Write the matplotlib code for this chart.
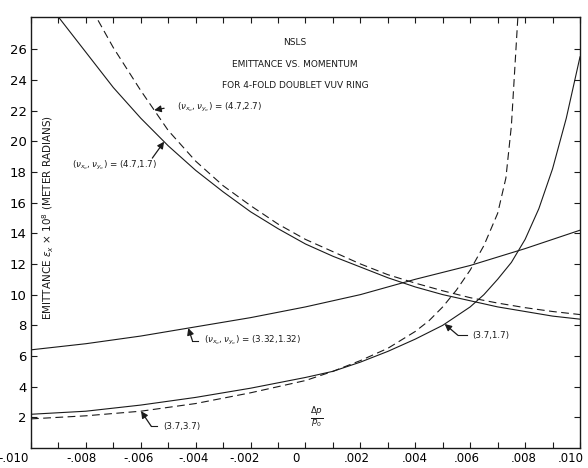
import matplotlib
matplotlib.use('Agg')
import matplotlib.pyplot as plt
import matplotlib.transforms as mtransforms
import numpy as np

# momentum deviation dp/p0 and emittance (x 1e-8 m rad)
x_a = [-0.0095, -0.009, -0.008, -0.007, -0.006, -0.005, -0.004, -0.003, -0.002, -0.001, 0.0,
       0.001, 0.002, 0.003, 0.004, 0.005, 0.006, 0.007, 0.008, 0.009, 0.010]
eps_a = [29.5, 28.1, 25.8, 23.5, 21.5, 19.7, 18.1, 16.7, 15.4, 14.3, 13.3,
         12.5, 11.8, 11.1, 10.5, 10.0, 9.6, 9.2, 8.9, 8.6, 8.4]          # (4.7,1.7) solid

x_b = [-0.008, -0.007, -0.006, -0.005, -0.004, -0.003, -0.002, -0.001, 0.0, 0.001,
       0.002, 0.003, 0.004, 0.005, 0.006, 0.007, 0.008, 0.009, 0.010]
eps_b = [29.3, 26.1, 23.3, 20.7, 18.7, 17.1, 15.8, 14.6, 13.6, 12.8,
         12.0, 11.3, 10.75, 10.25, 9.8, 9.45, 9.15, 8.9, 8.7]             # (4.7,2.7) dashed

x_c = [-0.010, -0.009, -0.008, -0.007, -0.006, -0.005, -0.004, -0.003, -0.002, -0.001, 0.0,
       0.001, 0.002, 0.003, 0.004, 0.005, 0.006, 0.007, 0.008, 0.009, 0.010]
eps_c = [6.4, 6.6, 6.8, 7.05, 7.3, 7.6, 7.9, 8.2, 8.5, 8.85, 9.2,
         9.6, 10.0, 10.5, 11.0, 11.45, 11.9, 12.45, 13.0, 13.6, 14.2]     # (3.32,1.32)

x_d = [-0.010, -0.008, -0.006, -0.004, -0.002, 0.0, 0.001, 0.002, 0.003, 0.004, 0.005,
       0.006, 0.0065, 0.007, 0.0075, 0.008, 0.0085, 0.009, 0.0095, 0.010]
eps_d = [2.2, 2.4, 2.8, 3.3, 3.9, 4.6, 5.0, 5.6, 6.3, 7.1, 8.0,
         9.2, 10.0, 11.0, 12.1, 13.6, 15.6, 18.2, 21.5, 25.5]             # (3.7,1.7) solid

x_e = [-0.010, -0.008, -0.006, -0.004, -0.002, 0.0, 0.001, 0.002, 0.003, 0.004, 0.0045,
       0.005, 0.0055, 0.006, 0.0065, 0.007, 0.0073, 0.0075, 0.0077, 0.0078]
eps_e = [1.9, 2.1, 2.4, 2.9, 3.6, 4.4, 5.0, 5.7, 6.5, 7.6, 8.3,
         9.2, 10.3, 11.6, 13.2, 15.3, 17.6, 21.0, 27.0, 30.0]             # (3.7,3.7) dashed

xtick_vals = [-0.010, -0.008, -0.006, -0.004, -0.002, 0.0, 0.002, 0.004, 0.006, 0.008, 0.010]
xtick_labels = ['-.010', '-.008', '-.006', '-.004', '-.002', '0', '.002', '.004', '.006', '.008', '.010']
ytick_vals = [2, 4, 6, 8, 10, 12, 14, 16, 18, 20, 22, 24, 26]

title_lines = ['NSLS', 'EMITTANCE VS. MOMENTUM', 'FOR 4-FOLD DOUBLET VUV RING']

ink = '#1a1a1a'
fig = plt.figure(figsize=(5.88, 4.68), dpi=100)
ax = fig.add_axes([0.0527, 0.0427, 0.9337, 0.921])

ax.plot(x_a, eps_a, color=ink, lw=0.8)
ax.plot(x_b, eps_b, color=ink, lw=0.8, dashes=(7, 4))
ax.plot(x_c, eps_c, color=ink, lw=0.8)
ax.plot(x_d, eps_d, color=ink, lw=0.8)
ax.plot(x_e, eps_e, color=ink, lw=0.8, dashes=(7, 4))

ax.set_xlim(-0.010, 0.010)
ax.set_ylim(0, 28.1)
ax.set_xticks(xtick_vals)
ax.set_xticklabels(xtick_labels, fontsize=8.5)
ax.set_xticks(np.arange(-0.010, 0.0101, 0.001), minor=True)
ax.set_yticks(ytick_vals)
ax.set_yticklabels([str(v) for v in ytick_vals], fontsize=9.5)
ax.tick_params(which='both', direction='in', top=True, right=True, length=4,
               width=0.8, color=ink, pad=3)
for sp in ax.spines.values():
    sp.set_linewidth(1.0)
    sp.set_color(ink)

# the hand-lettered x labels sit a little left of their ticks
shift_px = [-17, -4, -2, -2, -6, -10, -4, -1, -3, -1, -9]
for lab, dx in zip(ax.get_xticklabels(), shift_px):
    lab.set_transform(lab.get_transform() +
                      mtransforms.ScaledTranslation(dx / 100, 0, fig.dpi_scale_trans))

# title block
for yy, line in zip([0.940, 0.889, 0.840], title_lines):
    ax.text(0.481, yy, line, transform=ax.transAxes, ha='center', va='center',
            fontsize=6.5, color=ink)

# vertical label drawn inside the frame
ax.text(0.031, 0.536, r'EMITTANCE $\epsilon_x$ $\times$ $10^8$ (METER RADIANS)',
        transform=ax.transAxes, rotation=90, ha='center', va='center',
        fontsize=7.5, color=ink)

ax.text(0.0004, 1.95, r'$\frac{\Delta p}{p_0}$', ha='center', va='center',
        fontsize=9, color=ink)

arrow = dict(arrowstyle='-|>', lw=0.9, color=ink, shrinkA=0, shrinkB=0,
             mutation_scale=10)
lbl = dict(fontsize=6.3, color=ink, va='center')
tune = r'$(\nu_{x_o},\nu_{y_o})$ = '

# straight pointers
tip = -0.00551
ax.annotate('', xy=(tip, np.interp(tip, x_b, eps_b)), xytext=(-0.00515, 22.15), arrowprops=arrow)
ax.text(-0.00467, 22.2, tune + '(4.7,2.7)', ha='left', **lbl)

tip = -0.00515
ax.annotate('', xy=(tip, np.interp(tip, x_a, eps_a)), xytext=(-0.00558, 18.9), arrowprops=arrow)
ax.text(-0.00540, 18.45, tune + '(4.7,1.7)', ha='right', **lbl)

# bent pointers: (tip x, series, corner, end of tail, text)
bent = [
    (-0.00427, x_c, eps_c, (-0.00412, 7.0), -0.00390, tune + '(3.32,1.32)'),
    (-0.00599, x_e, eps_e, (-0.00562, 1.42), -0.00540, '(3.7,3.7)'),
    (0.00507, x_d, eps_d, (0.00555, 7.35), 0.00588, '(3.7,1.7)'),
]
for tx, xs, ys, corner, tail_end, txt in bent:
    ax.annotate('', xy=(tx, np.interp(tx, xs, ys)), xytext=corner, arrowprops=arrow)
    ax.plot([corner[0], tail_end], [corner[1], corner[1]], color=ink, lw=0.8)
    ax.text(tail_end + 0.0002, corner[1], txt, ha='left', **lbl)

fig.savefig('out.png', dpi=100)
